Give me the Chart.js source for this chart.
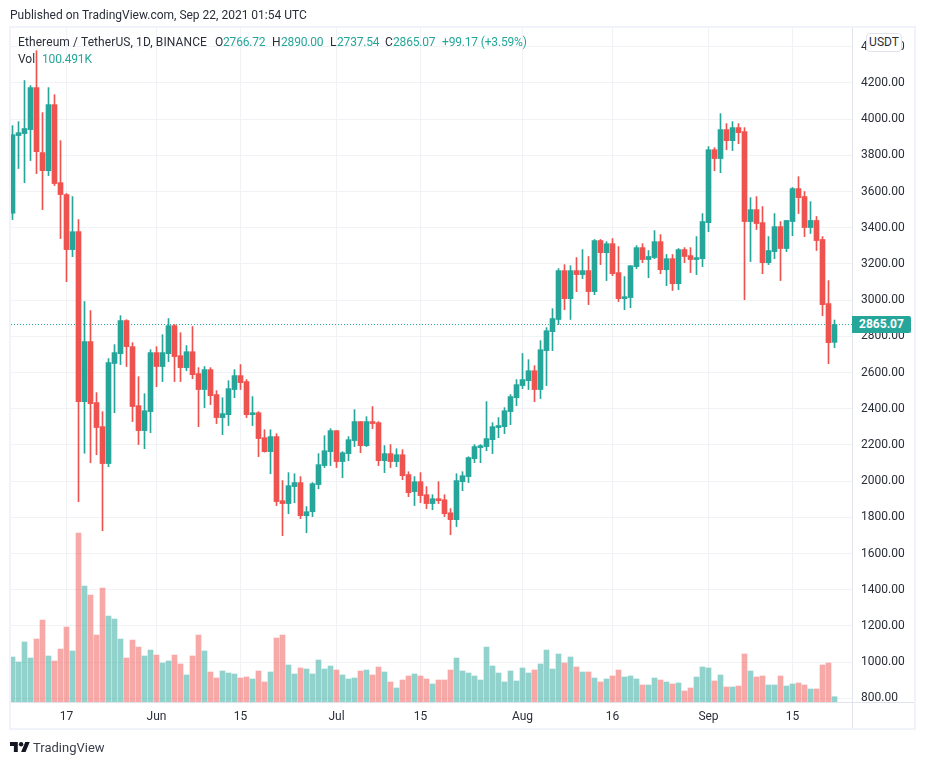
<!DOCTYPE html>
<html>
<head>
<meta charset="utf-8">
<script src="https://cdn.jsdelivr.net/npm/chart.js@4"></script>
<style>
html,body{margin:0;padding:0;background:#fff;width:926px;height:765px;overflow:hidden}
body{font-family:Roboto,sans-serif;color:#2a2e39;position:relative}
#c{position:absolute;left:0;top:0}
.a{position:absolute;white-space:nowrap;font-size:12px;line-height:16px}
.g{color:#26a69a;letter-spacing:-0.17px}
.box{position:absolute}
</style>
</head>
<body>
<canvas id="c" width="926" height="765"></canvas>
<script>
const opens=[3480,3909,3920,3942,4174,3815,3715,4080,3649,3583,3279,3378,2439,2771,2434,2301,2097,2650,2704,2887,2743,2417,2279,2384,2710,2633,2704,2859,2693,2627,2715,2594,2506,2616,2478,2351,2367,2506,2583,2550,2367,2378,2240,2163,2246,1892,1876,1970,1992,1809,1831,1981,2086,2163,2279,2108,2152,2224,2329,2196,2329,2323,2113,2152,2108,2146,2036,1942,1997,1925,1876,1903,1897,1825,1787,1997,2025,2124,2185,2191,2229,2296,2301,2384,2461,2528,2555,2610,2506,2721,2826,2893,3163,3008,3163,3141,3163,3047,3329,3262,3312,3152,3008,3014,3185,3290,3224,3235,3323,3168,3229,3091,3279,3246,3224,3229,3428,3831,3782,3942,3881,3953,3931,3434,3500,3428,3207,3268,3406,3285,3434,3616,3572,3401,3440,3335,2981,2766.72];
const highs=[3964,3986,4213,4185,4378,4036,4174,4135,3881,3589,3572,3445,2992,2942,2489,2384,2677,2754,2914,2892,2765,2577,2483,2726,2743,2809,2898,2865,2820,2749,2854,2627,2633,2627,2500,2461,2555,2616,2644,2561,2467,2384,2284,2284,2262,2003,2047,2041,2025,1859,1992,2152,2251,2290,2279,2163,2246,2395,2329,2356,2412,2329,2196,2202,2179,2174,2052,2025,2047,1970,1925,1997,1925,1848,2041,2052,2135,2202,2202,2439,2323,2351,2406,2478,2561,2705,2671,2638,2776,2848,2953,3174,3196,3190,3235,3279,3241,3335,3335,3323,3340,3296,3130,3190,3301,3312,3274,3384,3362,3252,3252,3285,3290,3290,3351,3478,3848,3842,4030,3975,3986,3975,3953,3566,3572,3517,3351,3478,3434,3440,3622,3682,3600,3544,3462,3351,3108,2890];
const lows=[3445,3727,3649,3771,3699,3500,3688,3633,3340,3102,3240,1887,2154,2102,2146,1726,2080,2378,2644,2633,2329,2202,2179,2268,2522,2550,2660,2550,2550,2610,2566,2301,2406,2423,2318,2257,2307,2461,2506,2351,2307,2135,2160,2041,1865,1699,1820,1881,1793,1715,1804,1958,2075,2086,2075,2019,2113,2191,2157,2191,2290,2086,2047,2075,2080,2008,1914,1865,1881,1848,1842,1876,1804,1704,1749,1947,1992,2102,2102,2168,2152,2240,2262,2312,2417,2511,2506,2439,2456,2528,2721,2865,2947,2893,3047,3119,2975,3030,3196,3108,3135,2992,2947,2958,3174,3207,3124,3229,3146,3080,3053,3058,3207,3152,3141,3185,3378,3715,3704,3831,3826,3864,3002,3213,3390,3146,3196,3229,3108,3268,3356,3478,3351,3368,3274,2914,2649,2737.54];
const closes=[3914,3925,3948,4174,3820,3715,4080,3644,3583,3279,3378,2439,2771,2428,2296,2097,2655,2710,2887,2743,2412,2279,2389,2710,2633,2710,2859,2688,2627,2715,2588,2506,2616,2472,2351,2373,2511,2583,2544,2367,2378,2235,2163,2246,1887,1876,1975,1992,1809,1831,1986,2091,2168,2279,2108,2157,2229,2329,2196,2329,2318,2113,2152,2108,2146,2030,1936,1997,1920,1876,1903,1892,1820,1787,2003,2030,2130,2191,2196,2235,2301,2307,2389,2467,2533,2561,2610,2506,2726,2831,2898,3163,3008,3163,3141,3163,3047,3329,3262,3312,3146,3008,3019,3190,3290,3224,3241,3323,3168,3229,3091,3279,3241,3224,3235,3434,3831,3782,3942,3881,3953,3925,3434,3500,3423,3207,3274,3406,3285,3440,3616,3566,3401,3440,3329,2975,2765,2865.07];
const volumesK=[855,760,1140,836,1196,1557,874,779,1006,1424,969,3209,2203,2032,1272,2165,1633,1576,1196,836,1177,1044,874,987,892,741,779,892,722,513,874,1272,969,570,456,589,551,532,456,475,437,589,380,570,1215,1272,703,532,646,627,532,798,627,684,608,513,437,456,589,608,513,665,570,380,266,418,494,532,494,437,342,418,418,608,836,589,551,494,418,1044,684,551,380,589,399,646,551,608,722,987,627,912,741,855,665,570,570,456,380,437,494,608,475,494,437,323,323,456,418,380,342,361,209,266,475,665,646,399,513,285,285,304,912,589,475,494,323,323,494,304,342,361,323,247,247,703,741,100.491];
const tickIndexes=[9,24,38,54,68,85,100,116,130];
const tickLabels=['17','Jun','15','Jul','15','Aug','16','Sep','15'];
const titleText='Published on TradingView.com, Sep 22, 2021 01:54 UTC';
const symbolText='Ethereum / TetherUS, 1D, BINANCE';
const ohlcText=[['O','2766.72',215],['H','2890.00',272],['L','2737.54',330],['C','2865.07',385]];
const changeText='+99.17 (+3.59%)';
const volText='100.491K';
const lastPrice=2865.07;

const UP='#26a69a',DOWN='#ef5350',UPV='rgba(38,166,154,0.5)',DOWNV='rgba(239,83,80,0.5)';
const isUp=i=>closes[i]>=opens[i];
const colors=closes.map((_,i)=>isUp(i)?UP:DOWN);
const vcolors=closes.map((_,i)=>isUp(i)?UPV:DOWNV);
const XMIN=-0.25,XMAX=139.9167;
const GRID='#f1f2f5',TEXT='#2a2e39';

new Chart(document.getElementById('c'),{
  data:{datasets:[
    {type:'bar',label:'Body',order:1,data:opens.map((o,i)=>({x:i,y:[o,closes[i]]})),backgroundColor:colors,barThickness:5,grouped:false,yAxisID:'y',xAxisID:'x'},
    {type:'bar',label:'Wick',order:2,data:lows.map((l,i)=>({x:i,y:[l,highs[i]]})),backgroundColor:colors,barThickness:1,grouped:false,yAxisID:'y',xAxisID:'x'},
    {type:'line',label:'Last',order:3,data:[{x:XMIN,y:lastPrice},{x:XMAX,y:lastPrice}],borderColor:UP,borderWidth:1,borderDash:[1,2],pointRadius:0,yAxisID:'y',xAxisID:'x'},
    {type:'bar',label:'Vol',order:4,data:volumesK.map((v,i)=>({x:i,y:v})),backgroundColor:vcolors,barThickness:5,grouped:false,yAxisID:'v',xAxisID:'x'}
  ]},
  options:{
    responsive:false,animation:false,
    layout:{padding:{left:11,top:28,right:11,bottom:35}},
    plugins:{legend:{display:false},tooltip:{enabled:false},title:{display:false}},
    scales:{
      x:{type:'linear',min:XMIN,max:XMAX,position:'bottom',offset:false,
        afterBuildTicks:s=>{s.ticks=tickIndexes.map(v=>({value:v}));},
        afterFit:s=>{s.height=28;},
        grid:{color:GRID,drawTicks:false,offset:false},
        border:{color:'#e0e3eb'},
        ticks:{autoSkip:false,maxRotation:0,padding:8,color:TEXT,font:{family:'Roboto',size:12},
          callback:v=>tickLabels[tickIndexes.indexOf(v)]}
      },
      y:{type:'linear',position:'right',min:779.8,max:4503.3,
        afterFit:s=>{s.width=63;},
        grid:{color:GRID,drawTicks:false},
        border:{color:'#e0e3eb'},
        ticks:{stepSize:200,includeBounds:false,padding:9,color:TEXT,font:{family:'Roboto',size:12},
          callback:v=>v.toFixed(2)}
      },
      v:{type:'linear',display:false,min:0,max:12806}
    }
  }
});

function add(cls,text,l,t,extra){const d=document.createElement('div');d.className=cls;d.textContent=text;d.style.left=l+'px';d.style.top=t+'px';if(extra)d.style.cssText+=extra;document.body.appendChild(d);return d;}
function box(l,t,w,h,bg){const d=document.createElement('div');d.className='box';d.style.cssText+=`left:${l}px;top:${t}px;width:${w}px;height:${h}px;background:${bg}`;document.body.appendChild(d);}
// frame and separators
box(9,26,907,2,'#f0f3fa');box(9,728,907,2,'#f0f3fa');box(9,26,2,704,'#f0f3fa');box(914,26,2,704,'#f0f3fa');
box(852,28,1,700,'#e0e3eb');box(852,702,62,1,'#e0e3eb');
// texts
add('a',titleText,10,7);
add('a',symbolText,18,34,'letter-spacing:0.1px');
ohlcText.forEach(r=>{add('a',r[0],r[2],34);add('a g',r[1],r[2]+(r[0]==='L'?7:r[0]==='H'?9:8),34);});
add('a g',changeText,442,34);
add('a','Vol',18,51);add('a g',volText,42,51);
// last price label
add('a',lastPrice.toFixed(2),852,316,'width:59px;height:17px;line-height:17px;background:#26a69a;color:#fff;font-weight:700;text-align:center;border-radius:0 2px 2px 0');
// currency badge
add('a','USDT',866,33,'width:34px;height:17px;line-height:17px;background:#fff;border:1px solid #e0e3eb;border-radius:4px;text-align:center;font-size:12px');
// footer
const ns='http://www.w3.org/2000/svg';
const logo=document.createElementNS(ns,'svg');logo.setAttribute('viewBox','0 4 36 18');logo.setAttribute('width','20');logo.setAttribute('height','10');logo.style.cssText='position:absolute;left:10px;top:742px';
logo.innerHTML='<path fill="#131722" d="M14 22H7V11H0V4h14v18zM28 22h-8l7.5-18h8L28 22z"/><circle fill="#131722" cx="20" cy="8" r="4"/>';
document.body.appendChild(logo);
add('a','TradingView',33,740,'font-size:13px;color:#3c404b');
</script>
</body>
</html>
